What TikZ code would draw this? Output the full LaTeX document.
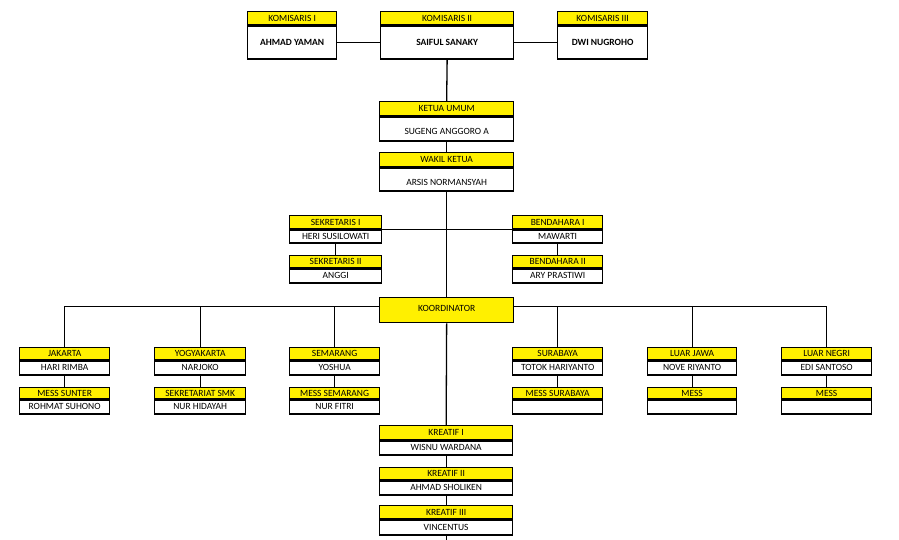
\documentclass[tikz,border=0pt]{standalone}
\usepackage{fontspec}
\setmainfont{Carlito}
\definecolor{hdryellow}{RGB}{255,240,0}
\tikzset{
  box/.style={draw=black, line width=1.3pt, inner sep=0pt, text height=6pt, text depth=0pt,
              font=\fontsize{9.5}{10}\selectfont, anchor=north west},
  hdr/.style={box, fill=hdryellow},
  bdy/.style={box, fill=white, anchor=north},
  low/.style={text height=12pt},
  strong/.style={font=\fontsize{9.5}{10}\selectfont\bfseries},
  link/.style={line width=1.3pt, draw=black},
}
% #1 body style, #2 name, #3 x, #4 y, #5 width, #6 header h, #7 body h, #8 header, #9 body
\newcommand\orgbox[9][]{%
  \node[hdr, minimum width=#5pt, minimum height=#6pt] (#2h) at (#3,#4) {#8};
  \node[bdy, minimum width=#5pt, minimum height=#7pt, #1] (#2) at (#2h.south) {#9};
}
\begin{document}
\begin{tikzpicture}[x=1pt, y=-1pt]
\useasboundingbox (0,0) rectangle (899,540);
% top row
\orgbox[strong]{kom1}{247}{11}{89}{13}{33}{KOMISARIS I}{AHMAD YAMAN}
\orgbox[strong]{kom2}{380}{11}{133}{13}{33}{KOMISARIS II}{SAIFUL SANAKY}
\orgbox[strong]{kom3}{557}{11}{90}{13}{33}{KOMISARIS III}{DWI NUGROHO}
% leaders
\orgbox[low]{ketua}{379}{101}{134}{14}{24}{KETUA UMUM}{SUGENG ANGGORO A}
\orgbox[low]{wakil}{379}{152}{134}{14}{23}{WAKIL KETUA}{ARSIS NORMANSYAH}
\orgbox{sek1}{289}{215}{92}{13}{13}{SEKRETARIS I}{HERI SUSILOWATI}
\orgbox{sek2}{289}{255}{92}{12}{14}{SEKRETARIS II}{ANGGI}
\orgbox{ben1}{512}{215}{90}{13}{13}{BENDAHARA I}{MAWARTI}
\orgbox{ben2}{512}{255}{90}{12}{14}{BENDAHARA II}{ARY PRASTIWI}
\node[hdr, minimum width=134pt, minimum height=25pt, text depth=4pt] (koord) at (379,297) {KOORDINATOR};
% regions row 1
\orgbox{jak}{19}{347}{90}{12}{14}{JAKARTA}{HARI RIMBA}
\orgbox{yog}{154}{347}{91}{12}{14}{YOGYAKARTA}{NARJOKO}
\orgbox{sem}{289}{347}{90}{12}{14}{SEMARANG}{YOSHUA}
\orgbox{sby}{512}{347}{90}{12}{14}{SURABAYA}{TOTOK HARIYANTO}
\orgbox{lj}{647}{347}{89}{12}{14}{LUAR JAWA}{NOVE RIYANTO}
\orgbox{ln}{781}{347}{90}{12}{14}{LUAR NEGRI}{EDI SANTOSO}
% regions row 2
\orgbox{jakb}{19}{387}{90}{11}{14}{MESS SUNTER}{ROHMAT SUHONO}
\orgbox{yogb}{154}{387}{91}{11}{14}{SEKRETARIAT SMK}{NUR HIDAYAH}
\orgbox{semb}{289}{387}{90}{11}{14}{MESS SEMARANG}{NUR FITRI}
\orgbox{sbyb}{512}{387}{90}{11}{14}{MESS SURABAYA}{}
\orgbox{ljb}{647}{387}{89}{11}{14}{MESS}{}
\orgbox{lnb}{781}{387}{90}{11}{14}{MESS}{}
% creative
\orgbox{kr1}{379}{425}{133}{14}{14}{KREATIF I}{WISNU WARDANA}
\orgbox{kr2}{379}{467}{133}{12}{14}{KREATIF II}{AHMAD SHOLIKEN}
\orgbox{kr3}{379}{505}{133}{13}{15}{KREATIF III}{VINCENTUS}
\coordinate (bottomend) at (kr3.south |- 0,540);
% connectors
\draw[link] (kom1.east) -- (kom2.west);
\draw[link] (kom2.east) -- (kom3.west);
\draw[link] (kom2.south) -- (ketuah.north);
\draw[link] (ketua.south) -- (wakilh.north);
\draw[link] (wakil.south) -- (koord.north);
\draw[link] (sek1h.south east) -- (ben1h.south west);
\draw[link] (sek1.south) -- (sek2h.north);
\draw[link] (ben1.south) -- (ben2h.north);
\coordinate (busL) at ([yshift=3.5pt]koord.west);
\coordinate (busR) at ([yshift=3.5pt]koord.east);
\draw[link] (busL) -| (jakh.north);
\draw[link] (yogh.north) -- (yogh.north |- busL);
\draw[link] (semh.north) -- (semh.north |- busL);
\draw[link] (busR) -| (lnh.north);
\draw[link] (sbyh.north) -- (sbyh.north |- busR);
\draw[link] (ljh.north) -- (ljh.north |- busR);
\foreach \a in {jak,yog,sem,sby,lj,ln}{\draw[link] (\a.south) -- (\a bh.north);}
\draw[link] (koord.south) -- (kr1h.north);
\draw[link] (kr1.south) -- (kr2h.north);
\draw[link] (kr2.south) -- (kr3h.north);
\draw[link] (kr3.south) -- (bottomend);
\end{tikzpicture}
\end{document}
